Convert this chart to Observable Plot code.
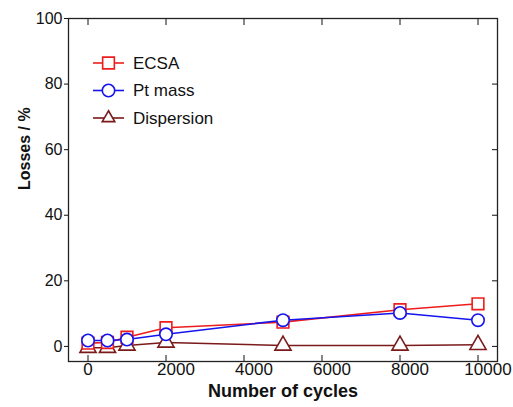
<!DOCTYPE html>
<html>
<head>
<meta charset="utf-8">
<script src="https://cdn.jsdelivr.net/npm/d3@7"></script>
<script src="https://cdn.jsdelivr.net/npm/@observablehq/plot@0.6"></script>
<style>
  html, body { margin: 0; padding: 0; background: #fff; }
  #chart { position: relative; width: 513px; height: 407px; }
</style>
</head>
<body>
<div id="chart"></div>
<script>
const cycles = [0, 500, 1000, 2000, 5000, 8000, 10000];
const ecsa = [1.0, 1.2, 2.8, 5.7, 7.4, 11.2, 13.0];
const ptMass = [1.8, 1.8, 2.1, 3.7, 8.0, 10.2, 8.0];
const dispersion = [-0.4, -0.4, 0.3, 1.2, 0.3, 0.3, 0.5];

const seriesNames = ["ECSA", "Pt mass", "Dispersion"];
const seriesValues = [ecsa, ptMass, dispersion];
const seriesColors = ["#ee1c1c", "#1414ee", "#7a1a1a"];
const seriesSymbols = ["square", "circle", "triangle"];
const seriesR = [6.6, 6.2, 6.0];

const xTicks = [0, 2000, 4000, 6000, 8000, 10000];
const yTicks = [0, 20, 40, 60, 80, 100];

const xLabel = "Number of cycles";
const yLabel = "Losses / %";

const rows = [];
seriesNames.forEach((s, i) => cycles.forEach((c, j) => rows.push({series: s, cycles: c, value: seriesValues[i][j]})));

const drawOrder = [2, 0, 1];
const dataMarks = [];
for (const i of drawOrder) {
  const d = rows.filter(r => r.series === seriesNames[i]);
  dataMarks.push(Plot.line(d, {x: "cycles", y: "value", stroke: seriesColors[i], strokeWidth: 1.6}));
}
for (const i of drawOrder) {
  const d = rows.filter(r => r.series === seriesNames[i]);
  dataMarks.push(Plot.dot(d, {x: "cycles", y: "value", stroke: seriesColors[i], fill: "white", symbol: seriesSymbols[i], r: seriesR[i], strokeWidth: 1.6}));
}

const chart = Plot.plot({
  width: 513,
  height: 407,
  marginLeft: 68,
  marginRight: 16,
  marginTop: 18,
  marginBottom: 46,
  style: {fontFamily: "'Liberation Sans', Arial, sans-serif", fontSize: "16px", color: "#111", background: "white"},
  x: {domain: [-500, 10500]},
  y: {domain: [-4.6, 100]},
  marks: [
    Plot.axisY({anchor: "left", ticks: yTicks, tickSize: 4, tickPadding: 2, label: null, fontSize: 16}),
    Plot.axisY({anchor: "right", ticks: yTicks, tickSize: -6, tickFormat: () => "", label: null}),
    Plot.axisX({anchor: "bottom", ticks: xTicks, tickSize: -6, tickFormat: () => "", label: null}),
    Plot.axisX({anchor: "top", ticks: xTicks, tickSize: -6, tickFormat: () => "", label: null}),
    Plot.text(xTicks.filter(t => t === 0), {x: d => d, text: d => String(d), frameAnchor: "bottom", dy: 13, fontSize: 17}),
    Plot.text(xTicks.filter(t => t !== 0), {x: d => d, text: d => String(d), frameAnchor: "bottom", dy: 13, dx: 10, fontSize: 17}),
    Plot.frame({stroke: "#222", strokeWidth: 1.3}),
    ...dataMarks,
    Plot.text([yLabel], {text: d => d, frameAnchor: "left", dx: -44, rotate: -90, fontWeight: "bold", fontSize: 16}),
    Plot.text([xLabel], {text: d => d, frameAnchor: "bottom", dy: 35, fontWeight: "bold", fontSize: 18})
  ]
});
document.getElementById("chart").appendChild(chart);

// Legend drawn into the same SVG
const svg = d3.select(chart);
const lg = svg.append("g").attr("transform", "translate(93,63)");
seriesNames.forEach((name, i) => {
  const g = lg.append("g").attr("transform", `translate(0,${i * 27.5})`);
  g.append("line").attr("x1", 0).attr("x2", 31).attr("y1", 0).attr("y2", 0)
    .attr("stroke", seriesColors[i]).attr("stroke-width", 1.6);
  const sym = {square: d3.symbolSquare, circle: d3.symbolCircle, triangle: d3.symbolTriangle2}[seriesSymbols[i]];
  g.append("path").attr("transform", "translate(15.5,0)")
    .attr("d", d3.symbol(sym, Math.PI * seriesR[i] * seriesR[i])())
    .attr("fill", "white").attr("stroke", seriesColors[i]).attr("stroke-width", 1.6);
  g.append("text").attr("x", 40).attr("y", 0).attr("dy", "0.35em")
    .attr("text-anchor", "start")
    .attr("font-size", 17).attr("fill", "#111").text(name);
});
</script>
</body>
</html>
